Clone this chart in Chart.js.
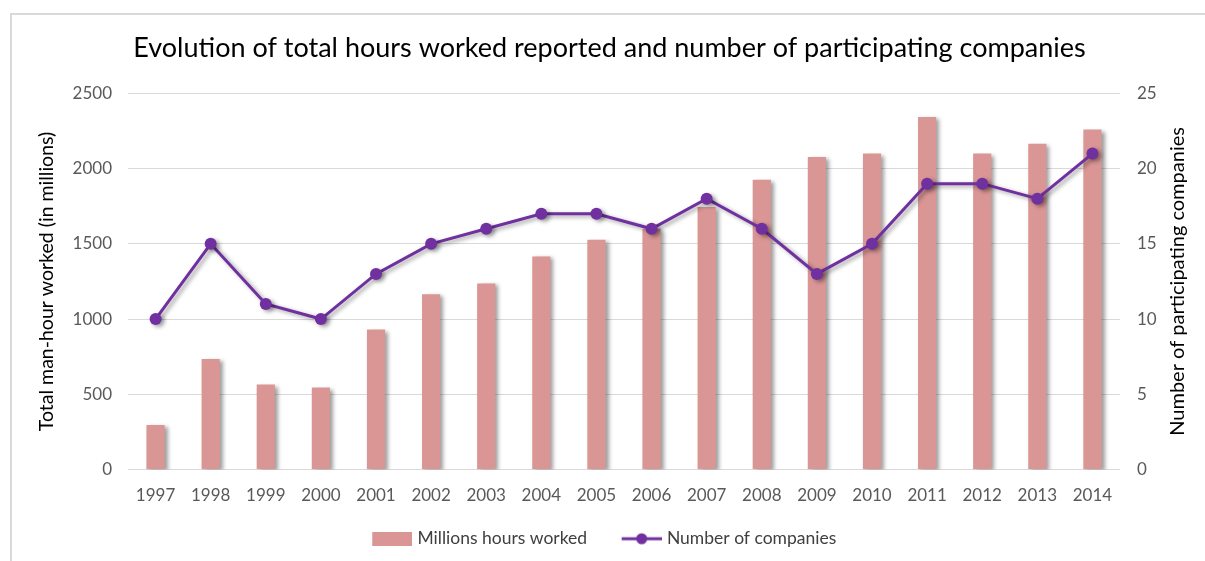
<!DOCTYPE html>
<html>
<head>
<meta charset="utf-8">
<title>Evolution of total hours worked</title>
<script src="https://cdn.jsdelivr.net/npm/chart.js@4.4.1/dist/chart.umd.min.js"></script>
<style>
  html, body { margin: 0; padding: 0; background: #fff; overflow: hidden; }
  #frame { position: absolute; left: 10px; top: 13px; width: 1300px; height: 700px;
           border: 2px solid #d9d9d9; box-sizing: border-box; }
  #wrap  { position: absolute; left: 0; top: 0; width: 1205px; height: 561px; }
</style>
</head>
<body>
<div id="frame"></div>
<div id="wrap"><canvas id="chart" width="1205" height="561"></canvas></div>
<script>
// ---- Data ----
const years = ['1997','1998','1999','2000','2001','2002','2003','2004','2005',
               '2006','2007','2008','2009','2010','2011','2012','2013','2014'];
const hoursWorked = [295, 735, 565, 545, 930, 1165, 1237, 1416, 1528,
                     1600, 1745, 1926, 2077, 2100, 2343, 2100, 2165, 2260];
const companies   = [10, 15, 11, 10, 13, 15, 16, 17, 17,
                     16, 18, 16, 13, 15, 19, 19, 18, 21];
const hoursTicks  = [0, 500, 1000, 1500, 2000, 2500];
const compTicks   = [0, 5, 10, 15, 20, 25];
const rightTitle  = 'Number of participating companies';

// ---- Palette ----
const BAR  = '#d99694';
const LINE = '#7030a0';
const FONT = 'Lato, "Open Sans", sans-serif';

// ---- Legend icons ----
// box slot is ICON_SLOT wide; the visible 40px sits at its right end,
// so the blank left part doubles as spacing between legend items
const ICON_SLOT = 56;
const ICON_W = ICON_SLOT + 7;
function barIcon() {
  const c = document.createElement('canvas');
  c.width = ICON_W; c.height = 14;
  const g = c.getContext('2d');
  g.fillStyle = BAR;
  g.fillRect(ICON_W - 40, 0, 40, 14);
  return c;
}
function lineIcon() {
  const c = document.createElement('canvas');
  c.width = ICON_W; c.height = 14;
  const g = c.getContext('2d');
  const x0 = ICON_W - 40;
  g.strokeStyle = LINE; g.lineWidth = 3;
  g.beginPath(); g.moveTo(x0, 7); g.lineTo(ICON_W, 7); g.stroke();
  g.fillStyle = LINE;
  g.beginPath(); g.arc(x0 + 20, 7, 5.5, 0, Math.PI * 2); g.fill();
  return c;
}
const icons = [barIcon(), lineIcon()];

// ---- Soft drop shadow on the marks ----
const shadowPlugin = {
  id: 'markShadow',
  beforeDatasetDraw(chart) {
    const ctx = chart.ctx;
    ctx.save();
    ctx.shadowColor = 'rgba(0,0,0,0.38)';
    ctx.shadowBlur = 4;
    ctx.shadowOffsetX = 3;
    ctx.shadowOffsetY = 2;
  },
  afterDatasetDraw(chart) { chart.ctx.restore(); }
};

// legend sits a little left of the canvas centre in the original
const legendNudge = {
  id: 'legendNudge',
  afterLayout(chart) {
    chart.legend.left -= 15;
    chart.legend.right -= 15;
  }
};

const tickFont  = { family: FONT, size: 17 };
const titleFont = { family: FONT, size: 19.5 };

// right axis title reads bottom-to-top, like the left one
const rightTitlePlugin = {
  id: 'rightTitle',
  afterDraw(chart) {
    const s = chart.scales.y1;
    const ctx = chart.ctx;
    ctx.save();
    ctx.translate(s.right - 27, (chart.chartArea.top + chart.chartArea.bottom) / 2);
    ctx.rotate(-Math.PI / 2);
    ctx.font = `20px ${FONT}`;
    ctx.fillStyle = '#000';
    ctx.textAlign = 'center';
    ctx.textBaseline = 'middle';
    ctx.fillText(rightTitle, 0, 0);
    ctx.restore();
  }
};

new Chart(document.getElementById('chart'), {
  type: 'bar',
  data: {
    labels: years,
    datasets: [
      {
        type: 'bar',
        label: 'Millions hours worked',
        data: hoursWorked,
        backgroundColor: BAR,
        borderWidth: 0,
        barPercentage: 0.33,
        categoryPercentage: 1,
        yAxisID: 'y',
        order: 1
      },
      {
        type: 'line',
        label: 'Number of companies',
        data: companies,
        borderColor: LINE,
        backgroundColor: LINE,
        borderWidth: 3,
        tension: 0,
        pointRadius: 6,
        pointBorderWidth: 0,
        pointBackgroundColor: LINE,
        yAxisID: 'y1',
        order: 0
      }
    ]
  },
  options: {
    responsive: false,
    animation: false,
    layout: { padding: { left: 14, right: 0, top: 0, bottom: 3.5 } },
    plugins: {
      title: {
        display: true,
        text: 'Evolution of total hours worked reported and number of participating companies',
        color: '#000',
        font: { family: FONT, size: 27, weight: 'normal' },
        padding: { top: 32, bottom: 29 }
      },
      legend: {
        position: 'bottom',
        labels: {
          color: '#404040',
          font: { family: FONT, size: 17.5 },
          usePointStyle: true,
          pointStyleWidth: ICON_SLOT,
          padding: 15,
          generateLabels(chart) {
            const items = Chart.defaults.plugins.legend.labels.generateLabels(chart);
            items.forEach(it => { it.pointStyle = icons[it.datasetIndex]; });
            return items.sort((a, b) => a.datasetIndex - b.datasetIndex);
          }
        }
      },
      tooltip: { enabled: false }
    },
    scales: {
      x: {
        afterFit: s => { s.height = 45.5; },
        grid: { display: false, drawTicks: false },
        border: { display: false },
        ticks: { color: '#595959', font: tickFont, padding: 16, maxRotation: 0 }
      },
      y: {
        position: 'left',
        min: 0, max: 2500,
        afterBuildTicks: s => { s.ticks = hoursTicks.map(v => ({ value: v })); },
        afterFit: s => { s.width = 114; },
        grid: { color: '#d9d9d9', lineWidth: 1, drawTicks: false },
        border: { display: false },
        ticks: { color: '#595959', font: tickFont, padding: 16, callback: v => String(v) },
        title: { display: true, text: 'Total man-hour worked (in millions)',
                 color: '#000', font: titleFont, padding: 21 }
      },
      y1: {
        position: 'right',
        min: 0, max: 25,
        afterBuildTicks: s => { s.ticks = compTicks.map(v => ({ value: v })); },
        afterFit: s => { s.width = 85; },
        grid: { drawOnChartArea: false, drawTicks: false },
        border: { display: false },
        ticks: { color: '#595959', font: tickFont, padding: 17, callback: v => String(v) },
        title: { display: false }
      }
    }
  },
  plugins: [shadowPlugin, rightTitlePlugin, legendNudge]
});
</script>
</body>
</html>
